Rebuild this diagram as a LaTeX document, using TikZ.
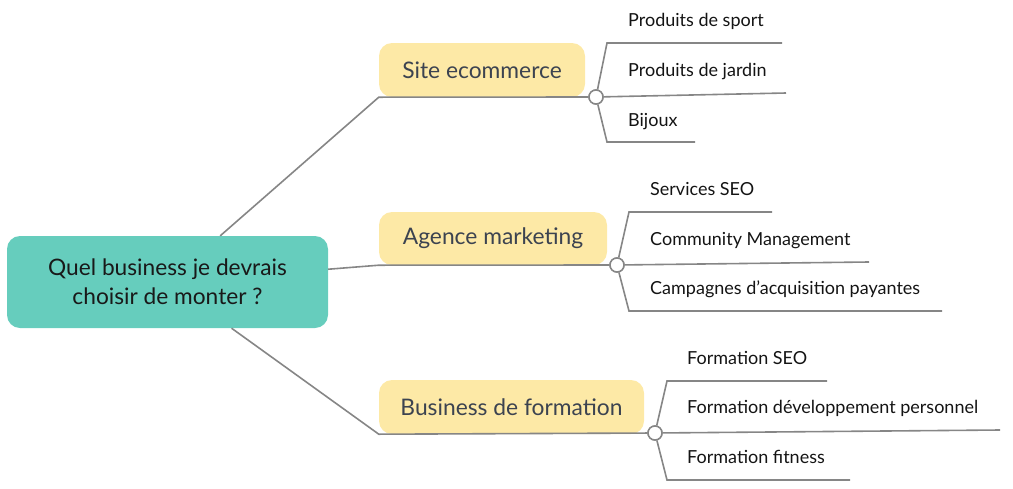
\documentclass[tikz,border=0pt]{standalone}
\usepackage{fontspec}
\setmainfont{Lato}
\definecolor{teal1}{HTML}{66CDBD}
\definecolor{yel}{HTML}{FDE9A6}
\definecolor{lin}{HTML}{868686}
\definecolor{btxt}{HTML}{3C4350}
\begin{document}
\begin{tikzpicture}[x=1pt,y=-1pt,
  rootbox/.style={fill=teal1,rounded corners=13pt,minimum width=321pt,minimum height=92pt,inner sep=0pt,align=center,font=\fontsize{22.7}{29}\selectfont,text=black!90},
  branchbox/.style={fill=yel,rounded corners=13pt,minimum height=54pt,inner sep=0pt,font=\fontsize{22.8}{26}\selectfont,text=btxt},
  hub/.style={circle,draw=lin,fill=white,line width=1.5pt,minimum size=14pt,inner sep=0pt},
  conn/.style={draw=lin,line width=1.6pt},
  leaf/.style={anchor=base west,inner sep=0pt,font=\fontsize{18}{21}\selectfont,text=black!92}]
\useasboundingbox (0,0) rectangle (1013,488);
% nodes
\node[rootbox] (root) at (167.5,282) {Quel business je devrais\\choisir de monter ?};
\node[branchbox,minimum width=206pt] (b1) at (482,70) {Site ecommerce};
\node[branchbox,minimum width=228pt,minimum height=53pt] (b2) at (493,238.5) {Agence marketing};
\node[branchbox,minimum width=265pt] (b3) at (511.5,407) {Business de formation};
% coordinates for leaf lines
\coordinate (a1) at (607,43);  \coordinate (a1e) at (782,43);
\coordinate (a2e) at (786,93);
\coordinate (a3) at (607,142); \coordinate (a3e) at (695,142);
\coordinate (m1) at (629,212); \coordinate (m1e) at (772,212);
\coordinate (m2e) at (869,262);
\coordinate (m3) at (629,311); \coordinate (m3e) at (942,311);
\coordinate (f1) at (667,381); \coordinate (f1e) at (827,381);
\coordinate (f2e) at (1000,430);
\coordinate (f3) at (667,480); \coordinate (f3e) at (850,480);
% hubs
\node[hub] (c1) at (596,97) {};
\node[hub] (c2) at (617,265) {};
\node[hub] (c3) at (655,433) {};
% root connectors
\draw[conn] (root) -- (b1.south west) -- (c1);
\draw[conn] (root) -- (b2.south west) -- (c2);
\draw[conn] (root) -- (b3.south west) -- (c3);
% leaf connectors
\draw[conn] (c1) -- (a1) -- (a1e);
\draw[conn] (c1) -- (a2e);
\draw[conn] (c1) -- (a3) -- (a3e);
\draw[conn] (c2) -- (m1) -- (m1e);
\draw[conn] (c2) -- (m2e);
\draw[conn] (c2) -- (m3) -- (m3e);
\draw[conn] (c3) -- (f1) -- (f1e);
\draw[conn] (c3) -- (f2e);
\draw[conn] (c3) -- (f3) -- (f3e);
\node[hub] at (c1) {};
\node[hub] at (c2) {};
\node[hub] at (c3) {};
% leaf labels
\node[leaf] (t11) at (628,26) {Produits de sport};
\node[leaf] (t12) at (628,76) {Produits de jardin};
\node[leaf] (t13) at (628,126) {Bijoux};
\node[leaf] (t21) at (650,195) {Services SEO};
\node[leaf] (t22) at (650,245) {Community Management};
\node[leaf] (t23) at (650,294) {Campagnes d’acquisition payantes};
\node[leaf] (t31) at (687,364) {Formation SEO};
\node[leaf] (t32) at (687,413) {Formation développement personnel};
\node[leaf] (t33) at (687,463) {Formation fitness};
\end{tikzpicture}
\end{document}
